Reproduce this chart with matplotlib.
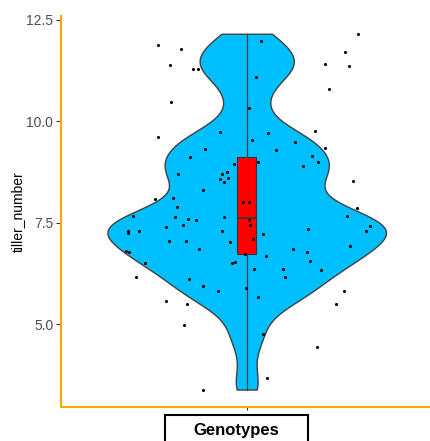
import numpy as np
import matplotlib
matplotlib.use("Agg")
import matplotlib.pyplot as plt
from matplotlib.patches import Rectangle

plt.rcParams['font.family'] = ['Liberation Sans', 'DejaVu Sans']

# tiller_number values (y) and jittered x positions of each plant
tiller_number = [
    11.89, 11.79, 11.40, 11.29, 11.30, 10.49, 10.32, 11.97, 12.16, 11.71,
    11.42, 11.36, 11.09, 10.81, 9.61, 9.74, 9.32, 9.12, 8.95, 8.70,
    8.70, 8.75, 8.58, 8.61, 8.50, 8.31, 8.08, 8.11, 7.88, 8.01,
    8.02, 7.66, 7.65, 7.65, 9.71, 9.55, 9.76, 9.49, 9.30, 9.34,
    9.15, 9.01, 8.91, 9.00, 8.54, 7.86, 7.66, 7.59, 7.58, 7.45,
    7.40, 7.31, 7.24, 7.30, 7.30, 7.05, 7.06, 7.02, 6.86, 6.80,
    6.77, 6.50, 6.52, 6.54, 6.72, 6.16, 6.11, 5.94, 5.83, 5.89,
    5.57, 5.51, 7.58, 7.45, 7.11, 7.23, 7.35, 7.41, 7.29, 6.86,
    6.78, 6.94, 6.68, 6.55, 6.36, 6.36, 6.17, 6.34, 5.68, 5.83,
    5.51, 4.99, 3.39, 4.75, 4.45, 3.67,
]
jitter_x = [
    0.712, 0.787, 0.751, 0.826, 0.843, 0.754, 1.008, 1.045, 1.359, 1.318,
    1.254, 1.330, 1.031, 1.266, 0.712, 0.915, 0.864, 0.817, 0.958, 0.779,
    0.919, 0.937, 0.915, 0.941, 0.928, 0.858, 0.703, 0.761, 0.775, 0.987,
    1.006, 0.634, 0.767, 0.926, 1.069, 1.016, 1.221, 1.155, 1.096, 1.252,
    1.212, 1.231, 1.183, 1.038, 1.342, 1.355, 1.325, 0.811, 0.836, 0.794,
    0.739, 0.615, 0.615, 0.653, 0.919, 0.748, 0.803, 0.947, 0.846, 0.609,
    0.621, 0.670, 0.953, 0.963, 0.996, 0.642, 0.815, 0.859, 0.908, 0.997,
    0.739, 0.807, 1.006, 1.010, 1.019, 1.054, 1.197, 1.398, 1.385, 1.150,
    1.196, 1.334, 1.062, 1.204, 1.022, 1.116, 1.125, 1.241, 1.036, 1.315,
    1.288, 0.796, 0.860, 1.054, 1.228, 1.065,
]
# box statistics
box_q1, box_med, box_q3 = 6.72, 7.62, 9.13
box_lo, box_hi = 3.39, 12.16
yticks = [5.0, 7.5, 10.0, 12.5]
ytick_labels = ["5.0", "7.5", "10.0", "12.5"]
bw_adjust = 0.62

W, H = 430, 441
fig = plt.figure(figsize=(W / 100, H / 100), dpi=100)
ax = fig.add_axes([61 / W, (H - 407.4) / H, (432.4 - 61) / W, (407.4 - 15.9) / H])

data = np.array(tiller_number)
sd = data.std(ddof=1)
iqr = np.subtract(*np.percentile(data, [75, 25]))
bw = bw_adjust * 0.9 * min(sd, iqr / 1.34) * len(data) ** (-0.2)

vp = ax.violinplot([data], positions=[1], widths=0.9, showextrema=False,
                   showmeans=False, showmedians=False, points=512,
                   bw_method=bw / sd)
for body in vp['bodies']:
    body.set_facecolor('#00BFFF')
    body.set_edgecolor('#404040')
    body.set_linewidth(1.0)
    body.set_alpha(1)
    body.set_zorder(1)

stats = [dict(med=box_med, q1=box_q1, q3=box_q3, whislo=box_lo, whishi=box_hi, fliers=[])]
ax.bxp(stats, positions=[1], widths=0.06, showcaps=False, showfliers=False,
       patch_artist=True, manage_ticks=False,
       boxprops=dict(facecolor='#FF0000', edgecolor='#333333', linewidth=0.8),
       medianprops=dict(color='#333333', linewidth=1.2),
       whiskerprops=dict(color='#404040', linewidth=0.9), zorder=2)

ax.scatter(jitter_x, tiller_number, s=5, color='black', zorder=3, linewidths=0)

ax.set_xlim(0.4, 1.6)
ax.set_ylim(2.95, 12.60)
ax.set_xticks([1])
ax.set_xticklabels([''])
ax.set_yticks(yticks)
ax.set_yticklabels(ytick_labels)
ax.tick_params(axis='y', colors='#333333', labelcolor='#4D4D4D', labelsize=10,
               length=3.5, width=0.8, pad=2)
ax.tick_params(axis='x', colors='#333333', length=2, width=0.8)
for s in ['top', 'right']:
    ax.spines[s].set_visible(False)
for s in ['left', 'bottom']:
    ax.spines[s].set_color('#FFA500')
    ax.spines[s].set_linewidth(1.5)
ax.set_facecolor('white')

fig.text(18 / W, 1 - 211.6 / H, 'tiller_number', rotation=90, ha='center',
         va='center', fontsize=10, color='black')

fig.text(236.4 / W, 1 - 435 / H, 'Genotypes', ha='center', va='baseline',
         fontsize=12, fontweight='bold', color='black')
fig.patches.append(Rectangle((165 / W, (H - 450) / H), 142.7 / W, 35 / H,
                             transform=fig.transFigure, fill=False,
                             edgecolor='black', linewidth=1.5, clip_on=False))

fig.savefig('out.png', dpi=100)
